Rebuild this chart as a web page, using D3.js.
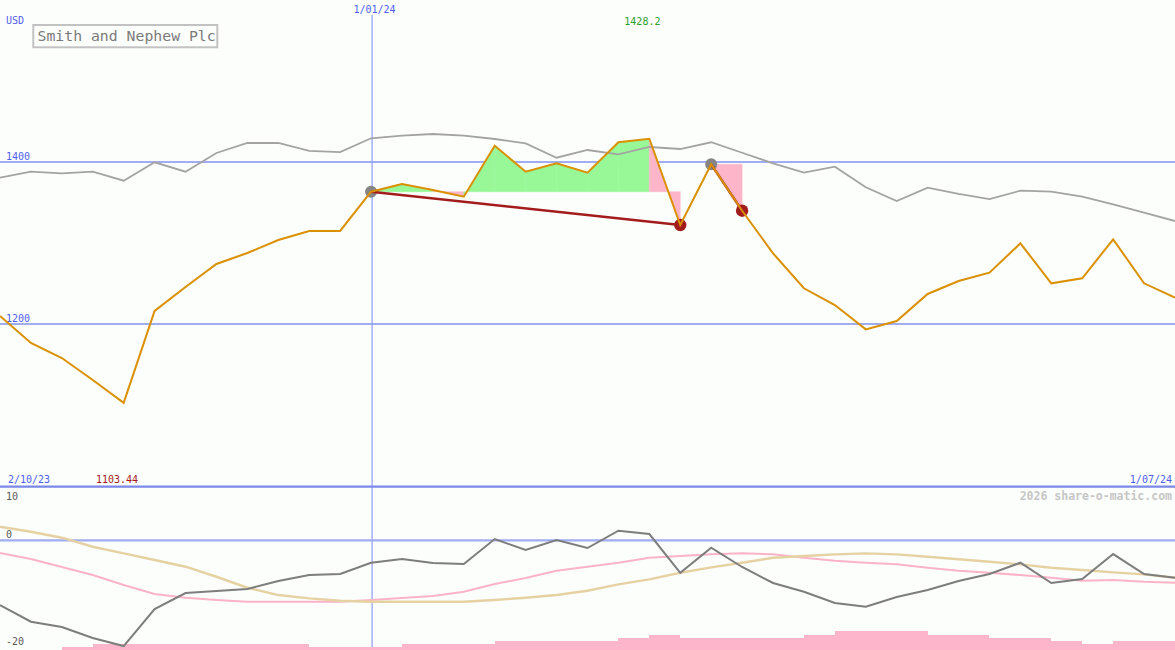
<!DOCTYPE html>
<html><head><meta charset="utf-8">
<script src="https://cdn.jsdelivr.net/npm/d3@7"></script>
<style>
html,body{margin:0;padding:0;background:#fcfefc;}
svg{display:block;}
text{font-family:"DejaVu Sans Mono","Liberation Mono",monospace;}
</style>
</head><body>
<svg id="c" width="1175" height="650"></svg>
<script>
// ---------- data ----------
const title = "Smith and Nephew Plc";
const currency = "USD";
const startLabel = "2/10/23";
const endLabel = "1/07/24";
const midLabel = "1/01/24";
const midIndex = 12;
const closes = [1210.2,1177,1158.5,1131.5,1103.44,1216.4,1245.9,1274.2,1287.7,1303.7,1314.8,1314.8,1363.1,1372.6,1365.2,1357,1419.7,1387.7,1398,1386.5,1423.9,1428.2,1322.1,1396.8,1339.7,1287.3,1244.3,1223.7,1193.8,1204,1237.3,1253.3,1263.5,1299.6,1250.4,1256.6,1304.5,1250.4,1232.7];
const average = [1380.3,1387.7,1385.7,1387.7,1376.6,1399.3,1387.7,1410.7,1423,1423,1413.2,1411.9,1428.8,1432,1434.1,1432,1427.9,1422.6,1404.9,1414.4,1409.1,1418.1,1415.6,1423.9,1411,1398,1386.5,1393.8,1368.5,1351.7,1368,1360.3,1354.1,1364.3,1363.1,1357,1347.6,1337.3,1327];
const trades = [{buy:12, sell:22},{buy:23, sell:24}];
const priceTicks = [1400, 1200];
const oscFast = [-12.13,-15.26,-16.26,-18.32,-19.82,-12.88,-9.88,-9.51,-9.13,-7.63,-6.51,-6.32,-4.2,-3.51,-4.26,-4.44,0.24,-1.82,0.06,-1.44,1.8,1.18,-6.08,-1.39,-5.0,-8.0,-9.64,-11.76,-12.45,-10.63,-9.32,-7.63,-6.32,-4.2,-8.0,-7.26,-2.57,-6.32,-7.01];
const oscMid = [-2.38,-3.51,-5.01,-6.51,-8.38,-10.07,-10.76,-11.19,-11.51,-11.51,-11.51,-11.51,-11.19,-10.82,-10.44,-9.64,-8.19,-7.07,-5.7,-4.95,-4.2,-3.26,-2.94,-2.63,-2.44,-2.63,-3.26,-3.83,-4.2,-4.5,-5.14,-5.7,-6.08,-6.51,-7.01,-7.58,-7.44,-7.76,-7.95];
const oscSlow = [2.55,1.61,0.49,-1.2,-2.44,-3.69,-4.95,-6.83,-8.89,-10.26,-10.88,-11.33,-11.51,-11.51,-11.51,-11.51,-11.19,-10.76,-10.26,-9.45,-8.25,-7.31,-6.08,-5.06,-4.2,-3.26,-2.94,-2.63,-2.44,-2.63,-3.08,-3.56,-4.01,-4.5,-5.14,-5.57,-6.0,-6.38,-7.01];
const volumes = [0,0,0.9,1.9,1.9,1.9,1.9,1.9,1.9,1.9,0.9,0.9,0.9,1.9,1.9,1.9,3,3,3,3,3.9,4.8,3.9,3.9,3.9,3.9,4.8,6.1,6.1,6.1,4.8,4.8,3.9,3.9,3,1.9,3,3];
const oscTicks = [10, 0, -20];
const watermark = "2026 share-o-matic.com";

// ---------- scales ----------
const W = 1175, H = 650;
const svg = d3.select("#c");
const x = d3.scaleLinear().domain([0, closes.length - 1]).range([0, W]);
const y = d3.scaleLinear().domain([1000, 1600]).range([486.9, -0.9]);
const yo = d3.scaleLinear().domain([-20, 10]).range([647, 487]);
const yv = d3.scaleLinear().domain([0, 10]).range([650, 618.5]);

svg.append("rect").attr("width", W).attr("height", H).attr("fill", "#fcfefc");

const blue = "#4f5ff0";
const grid = "#a0adf3";

// price gridlines
svg.append("g").selectAll("line").data(priceTicks).join("line")
  .attr("x1", 0).attr("x2", W).attr("y1", d => y(d)).attr("y2", d => y(d))
  .attr("stroke", grid).attr("stroke-width", 2).attr("shape-rendering", "crispEdges");
svg.append("g").selectAll("text").data(priceTicks).join("text")
  .attr("x", 6).attr("y", d => y(d) - 2).attr("font-size", 10).attr("fill", blue).text(d => d);

// vertical date line
svg.append("rect").attr("x", Math.round(x(midIndex)) + 0.5).attr("width", 1.2)
  .attr("y", 15).attr("height", H - 15).attr("fill", "#8c9cfc");

// trade fills
const fills = [];
trades.forEach(t => {
  const base = closes[t.buy];
  for (let i = t.buy; i < t.sell; i++) {
    fills.push({i, base, up: closes[i + 1] >= base});
  }
});
const fillPath = d => {
  const p = d3.path();
  p.moveTo(x(d.i), y(closes[d.i]));
  p.lineTo(x(d.i), y(d.base));
  p.lineTo(x(d.i + 1), y(d.base));
  p.lineTo(x(d.i + 1), y(closes[d.i + 1]));
  p.closePath();
  return p.toString();
};
svg.append("g").selectAll("path").data(fills).join("path")
  .attr("d", fillPath).attr("fill", d => d.up ? "#98f898" : "#fdb6c9")
  .attr("stroke", d => d.up ? "#98f898" : "#fdb6c9").attr("stroke-width", 0.5);

// average line
const line = d3.line().x((d, i) => x(i)).y(d => y(d));
svg.append("path").datum(average).attr("d", line).attr("fill", "none")
  .attr("stroke", "#a3a3a3").attr("stroke-width", 1.8);

// trade markers
svg.append("g").selectAll("circle").data(trades).join("circle")
  .attr("cx", d => x(d.buy)).attr("cy", d => y(closes[d.buy])).attr("r", 6).attr("fill", "#858585");
svg.append("g").selectAll("circle").data(trades).join("circle")
  .attr("cx", d => x(d.sell)).attr("cy", d => y(closes[d.sell])).attr("r", 6.2).attr("fill", "#a31c1c");
svg.append("g").selectAll("line").data(trades).join("line")
  .attr("x1", d => x(d.buy)).attr("y1", d => y(closes[d.buy]))
  .attr("x2", d => x(d.sell)).attr("y2", d => y(closes[d.sell]))
  .attr("stroke", "#a31c1c").attr("stroke-width", 2.4);

// price line
svg.append("path").datum(closes).attr("d", line).attr("fill", "none")
  .attr("stroke", "#da9000").attr("stroke-width", 2);

// panel separator
svg.append("line").attr("x1", 0).attr("x2", W).attr("y1", 486.7).attr("y2", 486.7)
  .attr("stroke", "#7b87ea").attr("stroke-width", 2.2);

// ---------- lower panel ----------
svg.append("g").selectAll("rect").data(volumes).join("rect")
  .attr("x", (d, i) => x(i)).attr("width", (d, i) => x(i + 1) - x(i))
  .attr("y", d => yv(d)).attr("height", d => yv(0) - yv(d))
  .attr("fill", "#fcb5cb").attr("shape-rendering", "crispEdges");

svg.append("line").attr("x1", 0).attr("x2", W).attr("y1", yo(0)).attr("y2", yo(0))
  .attr("stroke", grid).attr("stroke-width", 2.4);

const oline = d3.line().x((d, i) => x(i)).y(d => yo(d));
svg.append("path").datum(oscMid).attr("d", oline).attr("fill", "none")
  .attr("stroke", "#fcb3c8").attr("stroke-width", 2);
svg.append("path").datum(oscSlow).attr("d", oline).attr("fill", "none")
  .attr("stroke", "#e6d1a2").attr("stroke-width", 2.4);
svg.append("path").datum(oscFast).attr("d", oline).attr("fill", "none")
  .attr("stroke", "#7d7d7d").attr("stroke-width", 2);

svg.append("g").selectAll("text").data(oscTicks).join("text")
  .attr("x", 6).attr("y", d => d === 10 ? yo(d) + 13 : yo(d) - 2)
  .attr("font-size", 10).attr("fill", "#5a5a5a").text(d => d);

// ---------- labels ----------
svg.append("text").attr("x", 6).attr("y", 24).attr("font-size", 10).attr("fill", blue).text(currency);
svg.append("text").attr("x", x(midIndex) + 3.5).attr("y", 13).attr("font-size", 10)
  .attr("text-anchor", "middle").attr("fill", blue).text(midLabel);
svg.append("text").attr("x", 8).attr("y", 483).attr("font-size", 10).attr("fill", blue).text(startLabel);
svg.append("text").attr("x", 1172).attr("y", 483).attr("font-size", 10).attr("text-anchor", "end").attr("fill", blue).text(endLabel);

const maxI = d3.maxIndex(closes);
svg.append("text").attr("x", x(maxI) - 25).attr("y", 25).attr("font-size", 10).attr("fill", "#2c9e2c")
  .text(d3.max(closes));
svg.append("text").attr("x", 96).attr("y", 483).attr("font-size", 10).attr("fill", "#a31c1c")
  .text(d3.min(closes));

svg.append("rect").attr("x", 33.3).attr("y", 25).attr("width", 184).attr("height", 22.3)
  .attr("fill", "none").attr("stroke", "#c2c2c2").attr("stroke-width", 2);
svg.append("text").attr("x", 37.5).attr("y", 41).attr("font-size", 14.8).attr("fill", "#7a7a7a").text(title);

svg.append("text").attr("x", 1172).attr("y", 500).attr("font-size", 11.5).attr("font-weight", "bold")
  .attr("text-anchor", "end").attr("fill", "#c6c6c6").text(watermark);
</script>
</body></html>
